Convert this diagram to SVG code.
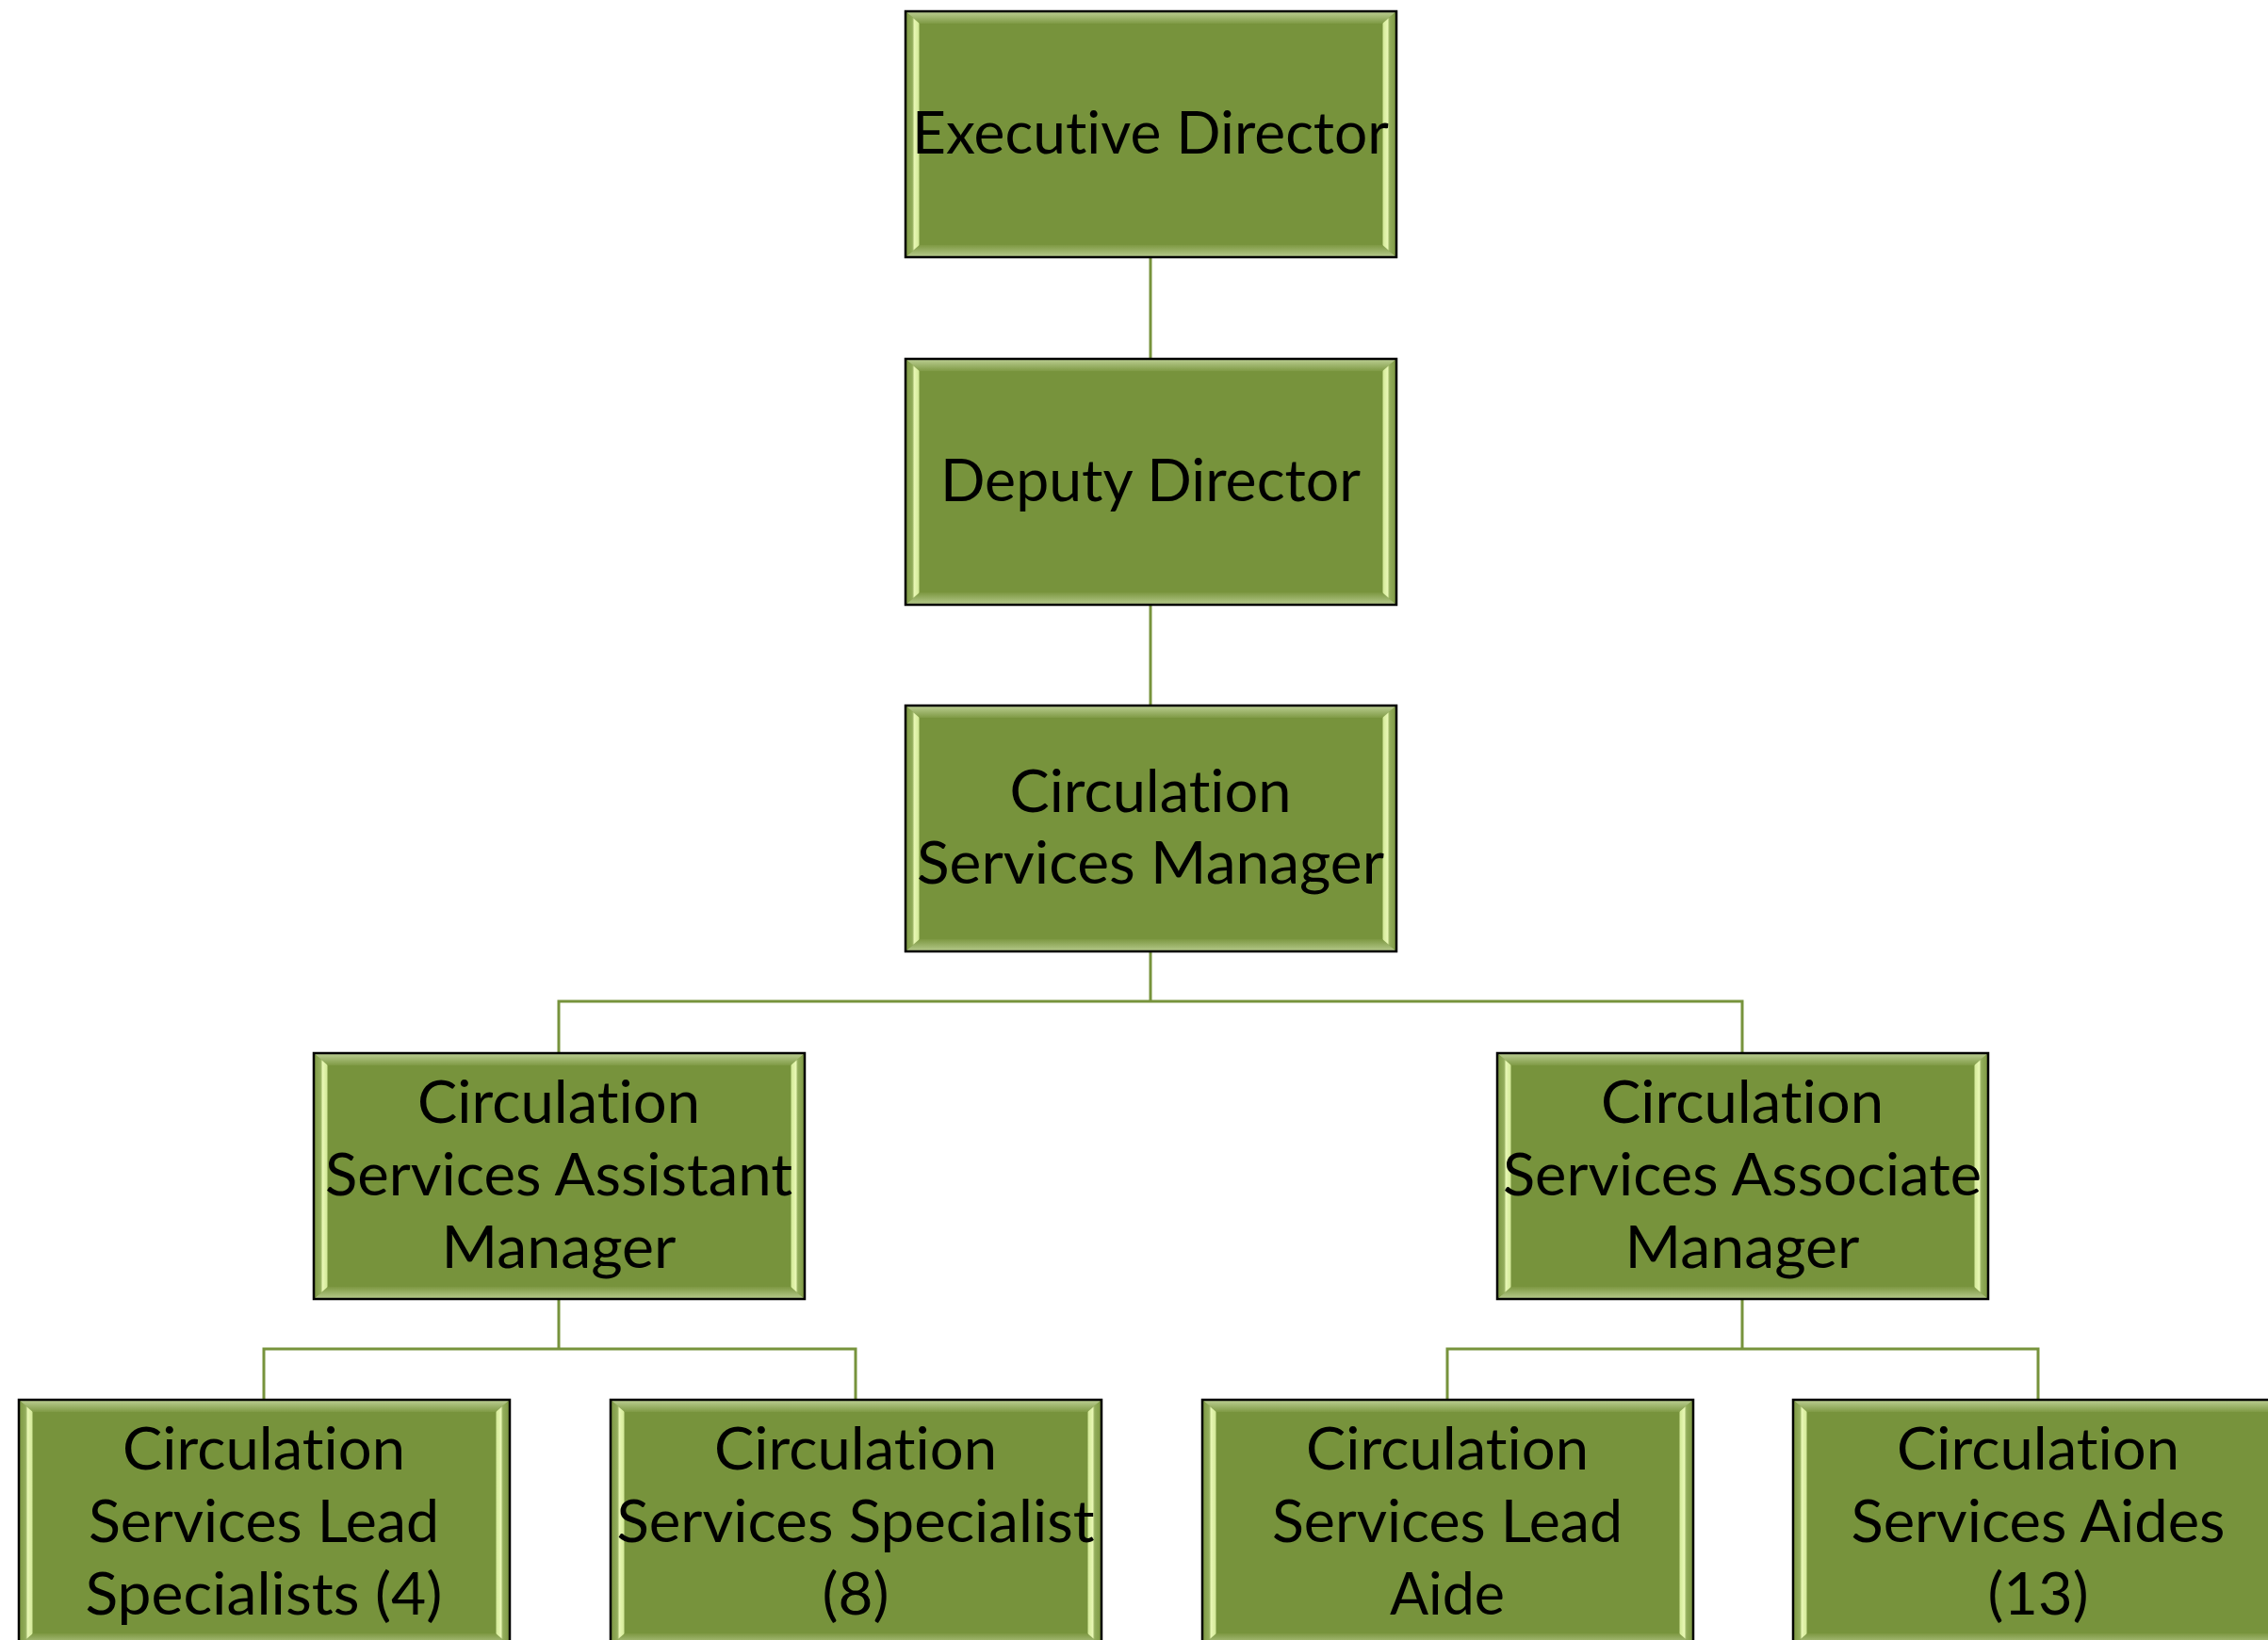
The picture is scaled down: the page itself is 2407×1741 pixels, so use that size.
<svg xmlns="http://www.w3.org/2000/svg" xmlns:xlink="http://www.w3.org/1999/xlink" width="2407" height="1741" viewBox="0 0 2407 1741">
<style>
.conn{fill:none;stroke:#77933C;stroke-width:3}
.lbl{font-family:Lato,"Open Sans","Liberation Sans",sans-serif;font-size:61px;fill:#000;text-anchor:middle;font-variant-ligatures:none;font-feature-settings:"liga" 0,"clig" 0}
</style>
<defs>
<linearGradient id="gTop" x1="0" y1="0" x2="0" y2="1"><stop offset="0" stop-color="#b9cc8f"/><stop offset="1" stop-color="#7f9a45"/></linearGradient>
<linearGradient id="gBot" x1="0" y1="0" x2="0" y2="1"><stop offset="0" stop-color="#7d9842"/><stop offset="1" stop-color="#b3c788"/></linearGradient>
<linearGradient id="gLeft" x1="0" y1="0" x2="1" y2="0"><stop offset="0" stop-color="#7f9a45"/><stop offset="0.45" stop-color="#93ad5c"/><stop offset="0.6" stop-color="#e8f7b4"/><stop offset="0.9" stop-color="#d6eb9c"/><stop offset="1" stop-color="#8aa451"/></linearGradient>
<linearGradient id="gRight" x1="0" y1="0" x2="1" y2="0"><stop offset="0" stop-color="#8aa451"/><stop offset="0.1" stop-color="#d6eb9c"/><stop offset="0.4" stop-color="#e8f7b4"/><stop offset="0.55" stop-color="#93ad5c"/><stop offset="1" stop-color="#7f9a45"/></linearGradient>
<g id="box">
<rect x="0" y="0" width="521" height="261" fill="#77933C"/>
<polygon points="1,1 520,1 506,13 15,13" fill="url(#gTop)"/>
<polygon points="1,260 520,260 506,248 15,248" fill="url(#gBot)"/>
<polygon points="1,1 15,13 15,248 1,260" fill="url(#gLeft)"/>
<polygon points="520,1 506,13 506,248 520,260" fill="url(#gRight)"/>
<rect x="0" y="0" width="521" height="261" fill="none" stroke="#000" stroke-width="2.5"/>
</g>
</defs>
<g id="connectors">
<path class="conn" d="M1221,273 V381"/>
<path class="conn" d="M1221,642 V749"/>
<path class="conn" d="M1221,1010 V1063 M593,1118 V1063 H1849 V1118"/>
<path class="conn" d="M593,1379 V1432 M280,1486 V1432 H908 V1486"/>
<path class="conn" d="M1849,1379 V1432 M1536,1486 V1432 H2163 V1486"/>
</g>
<g id="n1"><use xlink:href="#box" x="961" y="12"/>
<text class="lbl" x="1221" y="163" textLength="506" lengthAdjust="spacingAndGlyphs">Executive Director</text></g>
<g id="n2"><use xlink:href="#box" x="961" y="381"/>
<text class="lbl" x="1221" y="532" textLength="446" lengthAdjust="spacingAndGlyphs">Deputy Director</text></g>
<g id="n3"><use xlink:href="#box" x="961" y="749"/>
<text class="lbl" x="1221" y="862" textLength="299" lengthAdjust="spacingAndGlyphs">Circulation</text>
<text class="lbl" x="1221" y="938" textLength="496" lengthAdjust="spacingAndGlyphs">Services Manager</text></g>
<g id="n4"><use xlink:href="#box" x="333" y="1118"/>
<text class="lbl" x="593" y="1192" textLength="300" lengthAdjust="spacingAndGlyphs">Circulation</text>
<text class="lbl" x="593" y="1269" textLength="496" lengthAdjust="spacingAndGlyphs">Services Assistant</text>
<text class="lbl" x="593" y="1346" textLength="249" lengthAdjust="spacingAndGlyphs">Manager</text></g>
<g id="n5"><use xlink:href="#box" x="1589" y="1118"/>
<text class="lbl" x="1849" y="1192" textLength="300" lengthAdjust="spacingAndGlyphs">Circulation</text>
<text class="lbl" x="1849" y="1269" textLength="508" lengthAdjust="spacingAndGlyphs">Services Associate</text>
<text class="lbl" x="1849" y="1346" textLength="249" lengthAdjust="spacingAndGlyphs">Manager</text></g>
<g id="n6"><use xlink:href="#box" x="20" y="1486"/>
<text class="lbl" x="280" y="1560" textLength="300" lengthAdjust="spacingAndGlyphs">Circulation</text>
<text class="lbl" x="280" y="1637" textLength="372" lengthAdjust="spacingAndGlyphs">Services Lead</text>
<text class="lbl" x="280" y="1714" textLength="379" lengthAdjust="spacingAndGlyphs">Specialists (4)</text></g>
<g id="n7"><use xlink:href="#box" x="648" y="1486"/>
<text class="lbl" x="908" y="1560" textLength="300" lengthAdjust="spacingAndGlyphs">Circulation</text>
<text class="lbl" x="908" y="1637" textLength="507" lengthAdjust="spacingAndGlyphs">Services Specialist</text>
<text class="lbl" x="908" y="1714" textLength="71" lengthAdjust="spacingAndGlyphs">(8)</text></g>
<g id="n8"><use xlink:href="#box" x="1276" y="1486"/>
<text class="lbl" x="1536" y="1560" textLength="300" lengthAdjust="spacingAndGlyphs">Circulation</text>
<text class="lbl" x="1536" y="1637" textLength="372" lengthAdjust="spacingAndGlyphs">Services Lead</text>
<text class="lbl" x="1536" y="1714" textLength="122" lengthAdjust="spacingAndGlyphs">Aide</text></g>
<g id="n9"><use xlink:href="#box" x="1903" y="1486"/>
<text class="lbl" x="2163" y="1560" textLength="300" lengthAdjust="spacingAndGlyphs">Circulation</text>
<text class="lbl" x="2163" y="1637" textLength="397" lengthAdjust="spacingAndGlyphs">Services Aides</text>
<text class="lbl" x="2163" y="1714" textLength="107" lengthAdjust="spacingAndGlyphs">(13)</text></g>
</svg>
